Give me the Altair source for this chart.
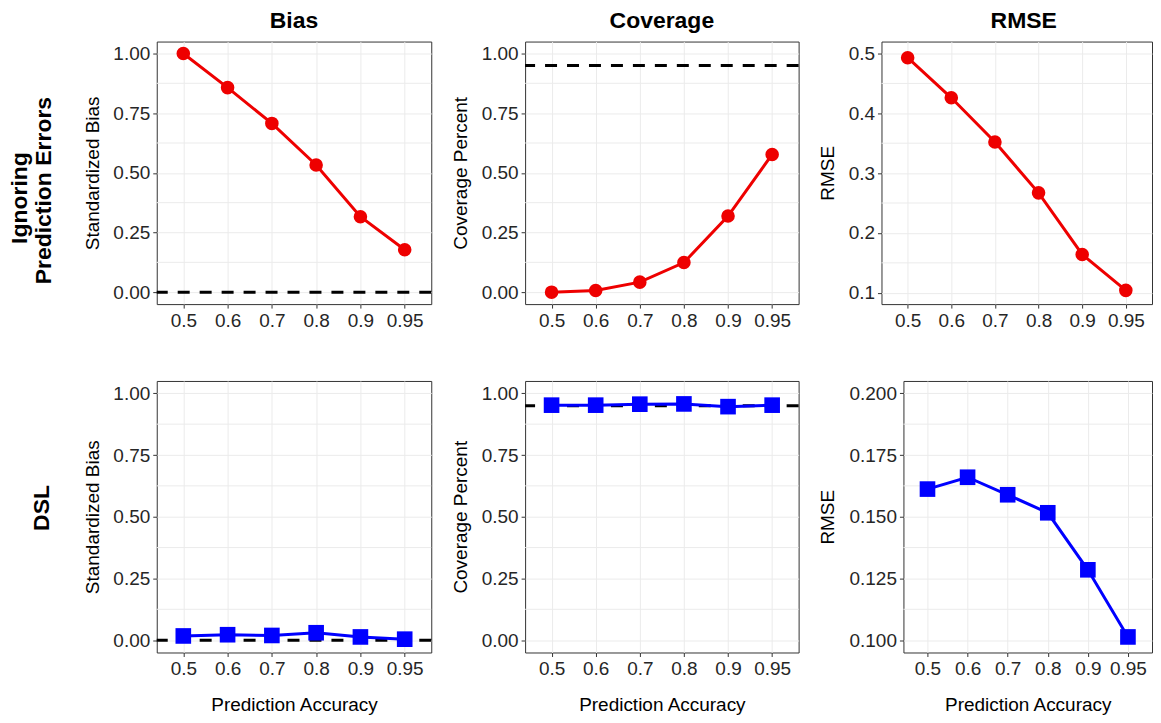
import altair as alt
import pandas as pd

# ---------------- data ----------------
cats = ["0.5", "0.6", "0.7", "0.8", "0.9", "0.95"]

ign_bias = [1.000, 0.857, 0.707, 0.533, 0.316, 0.178]
ign_cov = [0.000, 0.007, 0.042, 0.124, 0.319, 0.577]
ign_rmse = [0.493, 0.426, 0.352, 0.267, 0.164, 0.104]

dsl_bias = [0.017, 0.022, 0.019, 0.030, 0.013, 0.004]
dsl_cov = [0.952, 0.952, 0.956, 0.957, 0.946, 0.952]
dsl_rmse = [0.1612, 0.1660, 0.1589, 0.1516, 0.1285, 0.1013]

bias_ticks = [0.0, 0.25, 0.50, 0.75, 1.00]
bias_minor = [0.125, 0.375, 0.625, 0.875]
rmse1_ticks = [0.1, 0.2, 0.3, 0.4, 0.5]
rmse1_minor = [0.15, 0.25, 0.35, 0.45]
rmse2_ticks = [0.100, 0.125, 0.150, 0.175, 0.200]
rmse2_minor = [0.1125, 0.1375, 0.1625, 0.1875]

bias_ref = 0.0
cov_ref = 0.95

col_titles = ["Bias", "Coverage", "RMSE"]
row1_label = ["Ignoring", "Prediction Errors"]
row2_label = "DSL"
y_titles = ["Standardized Bias", "Coverage Percent", "RMSE"]
x_title = "Prediction Accuracy"

# ---------------- style ----------------
RED = "#EE0000"
BLUE = "#0000FF"
GRID = "#EBEBEB"
LBL = "#262626"
FONT = "Liberation Sans"

W1, W2, W3a, W3b = 275, 274, 271, 249
G12, G23a, G23b = 93.3, 82.3, 104.3
H1, H2 = 263, 272
VSP = 25
XT_Y = 58.0


def txt(s, x, y, size, weight="bold", angle=0, baseline="alphabetic"):
    return alt.Chart(pd.DataFrame({"t": [s]})).mark_text(
        fontSize=size, fontWeight=weight, angle=angle, baseline=baseline,
        align="center", color="black", font=FONT
    ).encode(text="t:N", x=alt.value(x), y=alt.value(y))


def anchor(x, y1, y2):
    return alt.Chart(pd.DataFrame({"v": [0]})).mark_rule(
        stroke="white", strokeWidth=1
    ).encode(x=alt.value(x), x2=alt.value(x), y=alt.value(y1), y2=alt.value(y2))


def panel(vals, color, shape, ydom, yticks, yfmt, ytitle, title_x, w, h,
          minor, hline=None, xtitle=None, extras=()):
    df = pd.DataFrame({"x": cats, "v": vals})
    xscale = alt.Scale(type="point", padding=0.6, domain=cats)
    if xtitle is not None:
        xaxis = alt.Axis(labelAngle=0, labelFontSize=19, labelColor=LBL, labelPadding=3,
                         tickSize=4, tickColor="#333333", domain=False, grid=True,
                         gridColor=GRID, gridWidth=1, title=xtitle, titleFontSize=19,
                         titleFontWeight="normal", titleColor="black", titleX=w / 2,
                         titleY=XT_Y, titleBaseline="alphabetic", titleAlign="center")
    else:
        xaxis = alt.Axis(labelAngle=0, labelFontSize=19, labelColor=LBL, labelPadding=3,
                         tickSize=4, tickColor="#333333", domain=False, grid=True,
                         gridColor=GRID, gridWidth=1, title=None)
    yscale = alt.Scale(domain=ydom, nice=False, zero=False)
    yaxis = alt.Axis(values=yticks, format=yfmt, labelFontSize=19, labelColor=LBL,
                     labelPadding=3, tickSize=4, tickColor="#333333", domain=False,
                     grid=True, gridColor=GRID, gridWidth=1, title=ytitle,
                     titleFontSize=19, titleFontWeight="normal", titleColor="black",
                     titleAngle=270, titleX=title_x, titleY=h / 2,
                     titleBaseline="alphabetic", titleAlign="center")
    X = alt.X("x:N", sort=cats, scale=xscale, axis=xaxis)
    Y = alt.Y("v:Q", scale=yscale, axis=yaxis)

    layers = []
    mdf = pd.DataFrame({"v": minor})
    layers.append(alt.Chart(mdf).mark_rule(color=GRID, strokeWidth=1).encode(y=Y))
    if hline is not None:
        layers.append(alt.Chart(pd.DataFrame({"v": [hline]})).mark_rule(
            color="black", strokeWidth=3, strokeDash=[12, 10]).encode(y=Y))
    layers.append(alt.Chart(df).mark_line(color=color, strokeWidth=3).encode(x=X, y=Y))
    if shape == "circle":
        layers.append(alt.Chart(df).mark_point(filled=True, shape="circle", size=185,
                                               color=color, opacity=1).encode(x=X, y=Y))
    else:
        layers.append(alt.Chart(df).mark_square(size=245, color=color, opacity=1)
                      .encode(x=X, y=Y))
    layers.extend(extras)
    return alt.layer(*layers).properties(width=w, height=h)


def spacer(w, h):
    return alt.Chart(pd.DataFrame({"v": [0]})).mark_point(opacity=0).encode(
        x=alt.value(0), y=alt.value(0)
    ).properties(width=w, height=h, view=alt.ViewBackground(stroke="transparent"))


# Row 1
p11 = panel(ign_bias, RED, "circle", [-0.05, 1.05], bias_ticks, ".2f", y_titles[0], -58.4,
            W1, H1, bias_minor, hline=bias_ref,
            extras=[anchor(-147.7, -31.7, H1 + 40),
                    txt(col_titles[0], W1 / 2, -14, 23),
                    txt(row1_label[0], -129.7, 156.8, 23, angle=270),
                    txt(row1_label[1], -105.9, 149.3, 23, angle=270)])
p12 = panel(ign_cov, RED, "circle", [-0.05, 1.05], bias_ticks, ".2f", y_titles[1], -58.4,
            W2, H1, bias_minor, hline=cov_ref,
            extras=[txt(col_titles[1], W2 / 2, -14, 23)])
p13 = panel(ign_rmse, RED, "circle", [0.081, 0.52], rmse1_ticks, ".1f", y_titles[2], -47.7,
            W3a, H1, rmse1_minor,
            extras=[txt(col_titles[2], 142.5, -14, 23)])

# Row 2
p21 = panel(dsl_bias, BLUE, "square", [-0.05, 1.05], bias_ticks, ".2f", y_titles[0], -58.4,
            W1, H2, bias_minor, hline=bias_ref, xtitle=x_title,
            extras=[anchor(-147.7, -10, 0),
                    txt(row2_label, -108.4, 127.2, 23, angle=270)])
p22 = panel(dsl_cov, BLUE, "square", [-0.05, 1.05], bias_ticks, ".2f", y_titles[1], -58.4,
            W2, H2, bias_minor, hline=cov_ref, xtitle=x_title)
p23 = panel(dsl_rmse, BLUE, "square", [0.095, 0.205], rmse2_ticks, ".3f", y_titles[2], -70,
            W3b, H2, rmse2_minor, xtitle=x_title)

row1 = alt.hconcat(p11, spacer(G12, H1), p12, spacer(G23a, H1), p13, spacing=0, bounds="flush")
row2 = alt.hconcat(p21, spacer(G12, H2), p22, spacer(G23b, H2), p23, spacing=0, bounds="flush")

chart = alt.vconcat(row1, row2, spacing=VSP).properties(
    padding={"left": 0, "top": 0, "right": 0, "bottom": 0}
).configure(font=FONT, padding=0).configure_view(stroke="#333333", strokeWidth=1)

chart.save("out.html", embed_options={"renderer": "svg", "actions": False})
